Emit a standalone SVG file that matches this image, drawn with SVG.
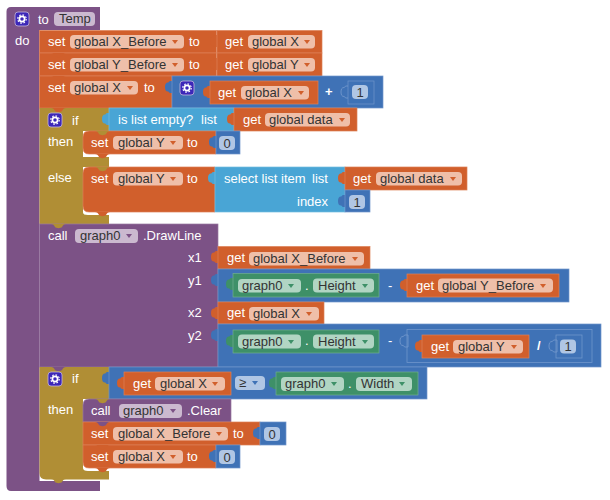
<svg xmlns="http://www.w3.org/2000/svg" width="610" height="500" viewBox="0 0 610 500">
<style>
text{font-family:"Liberation Sans",Arial,sans-serif;font-size:13px}
.t{fill:#fff}
.d{fill:#333}
.o{fill:#d15f2c;stroke:#dd8058;stroke-width:.7}
.p{fill:#7c5286;stroke:#9a7aa2;stroke-width:.7}
.b{fill:#3f72b6;stroke:#6f96cb;stroke-width:.7}
.g{fill:#3e9068;stroke:#6fae90;stroke-width:.7}
.l{fill:#49a5d5;stroke:#74bde0;stroke-width:.7}
.m{fill:#b08e35}
.fo{fill:#efbfa9}
.fp{fill:#cbb9cf}
.fb{fill:#b0c6e4}
.fg{fill:#b1d5c3}
.ao{fill:#d15f2c}
.ap{fill:#7c5286}
.ab{fill:#3f72b6}
.ag{fill:#3e9068}
.to{fill:#d15f2c}.tb{fill:#3f72b6}.tg{fill:#3e9068}.tl{fill:#49a5d5}.tp{fill:#7c5286}.tm{fill:#b08e35}
.hollow{fill:#3f72b6;stroke:#7fa2d2;stroke-width:.7}
.frame{fill:none;stroke:#6f96cb;stroke-width:.8}
</style>
<defs>
<path id="tab" d="M1 4H-2C-3 4-3 5.500-4 5.500C-6 5.500-7 7-7 10C-7 13-6 14.500-4 14.500C-3 14.500-3 16-2 16H1Z"/>
<path id="bump" d="M0 0C2 0 3 1 4 3C5 4.500 10 4.500 11 3C12 1 13 0 15 0Z"/>
<path id="arrow" d="M0 0H6L3 4Z"/>
<g id="gear">
<rect x="0" y="0" width="14" height="14" rx="3" fill="#3c27b8" stroke="#c4b6dc" stroke-width=".8"/>
<circle cx="7" cy="7" r="2.600" fill="none" stroke="#fff" stroke-width="1.700"/>
<circle cx="7" cy="7" r="4.200" fill="none" stroke="#fff" stroke-width="1.200" stroke-dasharray="1.600 1.700"/>
</g>
</defs>

<g id="connectors" fill="none"></g>

<g id="proc-temp">
<path fill="#7c5286" d="M11 7H100V30H39.500V481H100V491H11Q6.500 491 6.500 486V11.500Q6.500 7 11 7Z"/>
<use href="#gear" x="15" y="12"/>
<text class="t" x="38" y="24">to</text>
<rect class="fp" x="54" y="12" width="41" height="14" rx="4"/><text class="d" x="59" y="23">Temp</text>
<text class="t" x="15" y="45">do</text>
</g>

<g id="set-x-before">
<rect class="o" x="39.500" y="30.500" width="177" height="22.500"/>
<text class="t" x="48" y="46">set</text>
<rect class="fo" x="70" y="35" width="114" height="13.500" rx="4"/><text class="d" x="74" y="46">global X_Before</text><use class="ao" href="#arrow" x="172" y="40"/>
<text class="t" x="189" y="46">to</text>
</g>
<g id="get-x-1">
<use class="to" href="#tab" x="217" y="31"/>
<rect class="o" x="217" y="30.500" width="105" height="22.500"/>
<text class="t" x="225" y="46">get</text>
<rect class="fo" x="248" y="35" width="67" height="13.500" rx="4"/><text class="d" x="252" y="46">global X</text><use class="ao" href="#arrow" x="304" y="40"/>
</g>
<g id="set-y-before">
<rect class="o" x="39.500" y="53" width="177" height="23"/>
<use class="to" href="#bump" x="51" y="53"/>
<text class="t" x="48" y="69">set</text>
<rect class="fo" x="70" y="58" width="114" height="13.500" rx="4"/><text class="d" x="74" y="69">global Y_Before</text><use class="ao" href="#arrow" x="172" y="63"/>
<text class="t" x="189" y="69">to</text>
</g>
<g id="get-y-1">
<use class="to" href="#tab" x="217" y="54"/>
<rect class="o" x="217" y="53" width="105" height="23"/>
<text class="t" x="225" y="69">get</text>
<rect class="fo" x="248" y="58" width="67" height="13.500" rx="4"/><text class="d" x="252" y="69">global Y</text><use class="ao" href="#arrow" x="304" y="63"/>
</g>
<g id="set-x">
<rect class="o" x="39.500" y="76" width="132.500" height="32"/>
<use class="to" href="#bump" x="51" y="76"/>
<text class="t" x="48" y="92">set</text>
<rect class="fo" x="70" y="81" width="68" height="13.500" rx="4"/><text class="d" x="74" y="92">global X</text><use class="ao" href="#arrow" x="127" y="86"/>
<text class="t" x="144" y="92">to</text>
</g>
<g id="math-add">
<use class="tb" href="#tab" x="172" y="77"/>
<rect class="b" x="172" y="76" width="211" height="32"/>
<use href="#gear" x="180" y="81"/>
<use class="to" href="#tab" x="210" y="82"/>
<rect class="o" x="210" y="81" width="108" height="23"/>
<text class="t" x="218" y="97">get</text>
<rect class="fo" x="241" y="86" width="68" height="13.500" rx="4"/><text class="d" x="245" y="97">global X</text><use class="ao" href="#arrow" x="298" y="91"/>
<text class="t" x="325" y="96" font-weight="bold">+</text>
<use class="hollow" href="#tab" x="348" y="82"/>
<rect class="b" x="348" y="81" width="26" height="23"/>
<rect class="fb" x="352" y="85" width="16" height="14" rx="4"/><text class="d" x="356.500" y="96.500">1</text>
</g>

<g id="if-1">
<path class="tm" d="M39.500 108H109V131H83V157H109V167H83V212.500Q83 215 88 215H109V224H39.500Z"/>
<use class="to" href="#bump" x="51" y="108"/>
<use href="#gear" x="48" y="113"/>
<text class="t" x="72" y="125">if</text>
<text class="t" x="48" y="146">then</text>
<text class="t" x="48" y="182">else</text>
</g>
<g id="is-list-empty">
<use class="tl" href="#tab" x="109" y="109"/>
<rect class="l" x="109" y="108" width="125" height="23"/>
<text class="t" x="118" y="124">is list empty?</text><text class="t" x="201" y="124">list</text>
</g>
<g id="get-data-1">
<use class="to" href="#tab" x="234" y="109"/>
<rect class="o" x="234" y="108" width="123" height="23"/>
<text class="t" x="243" y="124">get</text>
<rect class="fo" x="265" y="113" width="85" height="13.500" rx="4"/><text class="d" x="269" y="124">global data</text><use class="ao" href="#arrow" x="339" y="118"/>
</g>
<g id="set-y-then">
<path class="o" d="M89 131H216V154H89Q83 154 83 148V137Q83 131 89 131Z"/>
<use class="tm" href="#bump" x="95" y="131"/>
<use class="to" href="#bump" x="95" y="154"/>
<text class="t" x="91" y="147">set</text>
<rect class="fo" x="113" y="136" width="70" height="13.500" rx="4"/><text class="d" x="118" y="147">global Y</text><use class="ao" href="#arrow" x="170" y="141"/>
<text class="t" x="187" y="147">to</text>
</g>
<g id="num-0-a">
<use class="tb" href="#tab" x="216" y="132"/>
<rect class="b" x="216" y="131" width="24" height="23"/>
<rect class="fb" x="219" y="136" width="16" height="14" rx="4"/><text class="d" x="223.500" y="147.500">0</text>
</g>
<g id="set-y-else">
<path class="o" d="M89 167H215V212H89Q83 212 83 206V173Q83 167 89 167Z"/>
<use class="tm" href="#bump" x="95" y="167"/>
<use class="to" href="#bump" x="95" y="212"/>
<text class="t" x="91" y="183">set</text>
<rect class="fo" x="113" y="172" width="70" height="13.500" rx="4"/><text class="d" x="118" y="183">global Y</text><use class="ao" href="#arrow" x="170" y="177"/>
<text class="t" x="187" y="183">to</text>
</g>
<g id="select-list-item">
<use class="tl" href="#tab" x="215" y="168"/>
<rect class="l" x="215" y="167" width="130" height="45"/>
<text class="t" x="224" y="183">select list item</text><text class="t" x="312" y="183">list</text>
<text class="t" x="297" y="206">index</text>
</g>
<g id="get-data-2">
<use class="to" href="#tab" x="345" y="168"/>
<rect class="o" x="345" y="167" width="122" height="23"/>
<text class="t" x="353" y="183">get</text>
<rect class="fo" x="376" y="172" width="86" height="13.500" rx="4"/><text class="d" x="380" y="183">global data</text><use class="ao" href="#arrow" x="450" y="177"/>
</g>
<g id="num-1-a">
<use class="tb" href="#tab" x="345" y="191"/>
<rect class="b" x="345" y="190" width="25" height="22"/>
<rect class="fb" x="349" y="195" width="16" height="14" rx="4"/><text class="d" x="353.500" y="206.500">1</text>
</g>

<g id="call-drawline">
<rect class="p" x="39.500" y="224" width="178.500" height="143"/>
<use class="tm" href="#bump" x="51" y="224"/>
<text class="t" x="48" y="240">call</text>
<rect class="fp" x="75" y="229" width="63" height="14" rx="4"/><text class="d" x="80" y="240">graph0</text><use class="ap" href="#arrow" x="126" y="234"/>
<text class="t" x="143" y="240">.DrawLine</text>
<text class="t" x="188" y="262">x1</text>
<text class="t" x="188" y="285">y1</text>
<text class="t" x="188" y="317">x2</text>
<text class="t" x="188" y="340">y2</text>
</g>
<g id="get-x-before">
<use class="to" href="#tab" x="218" y="247"/>
<rect class="o" x="218" y="246.500" width="152" height="22.500"/>
<text class="t" x="227" y="262">get</text>
<rect class="fo" x="249" y="252" width="115" height="13.500" rx="4"/><text class="d" x="253" y="262.500">global X_Before</text><use class="ao" href="#arrow" x="352" y="257"/>
</g>
<g id="math-y1">
<use class="tb" href="#tab" x="218" y="270"/>
<rect class="b" x="218" y="269" width="351" height="33"/>
<use class="tg" href="#tab" x="233" y="274"/>
<rect class="g" x="233" y="273.500" width="146" height="23.500"/>
<rect class="fg" x="238" y="279" width="63" height="13.500" rx="4"/><text class="d" x="242" y="290">graph0</text><use class="ag" href="#arrow" x="288" y="284"/>
<text class="t" x="305" y="290">.</text>
<rect class="fg" x="313" y="278.500" width="61" height="14" rx="4"/><text class="d" x="318" y="290">Height</text><use class="ag" href="#arrow" x="362" y="284"/>
<text class="t" x="388" y="290">-</text>
<use class="to" href="#tab" x="407" y="275"/>
<rect class="o" x="407" y="274" width="152" height="23"/>
<text class="t" x="416" y="290">get</text>
<rect class="fo" x="438" y="278.500" width="115" height="14" rx="4"/><text class="d" x="442" y="290">global Y_Before</text><use class="ao" href="#arrow" x="540" y="284"/>
</g>
<g id="get-x-2">
<use class="to" href="#tab" x="218" y="303"/>
<rect class="o" x="218" y="302" width="106" height="22"/>
<text class="t" x="227" y="317">get</text>
<rect class="fo" x="249" y="307" width="70" height="13.500" rx="4"/><text class="d" x="253" y="317.500">global X</text><use class="ao" href="#arrow" x="306" y="312"/>
</g>
<g id="math-y2">
<use class="tb" href="#tab" x="218" y="325"/>
<rect class="b" x="218" y="324" width="383" height="43"/>
<use class="tg" href="#tab" x="233" y="331"/>
<rect class="g" x="233" y="330" width="146" height="23"/>
<rect class="fg" x="238" y="334.500" width="63" height="14" rx="4"/><text class="d" x="242" y="345.500">graph0</text><use class="ag" href="#arrow" x="288" y="340"/>
<text class="t" x="305" y="345">.</text>
<rect class="fg" x="313" y="334.500" width="61" height="14" rx="4"/><text class="d" x="318" y="345.500">Height</text><use class="ag" href="#arrow" x="362" y="340"/>
<text class="t" x="388" y="345">-</text>
<use class="hollow" href="#tab" x="407" y="331"/>
<rect class="frame" x="407" y="329.500" width="185" height="33"/>
<use class="to" href="#tab" x="422" y="336"/>
<rect class="o" x="422" y="335" width="107" height="23"/>
<text class="t" x="431" y="351">get</text>
<rect class="fo" x="453" y="340" width="70" height="13.500" rx="4"/><text class="d" x="458" y="351">global Y</text><use class="ao" href="#arrow" x="511" y="345"/>
<text class="t" x="537" y="350" font-weight="bold">/</text>
<use class="hollow" href="#tab" x="556" y="336"/>
<rect class="frame" x="556" y="335" width="26" height="23"/>
<rect class="fb" x="560" y="339.500" width="16" height="14" rx="4"/><text class="d" x="564.500" y="351">1</text>
</g>

<g id="if-2">
<path class="tm" d="M39.500 367H109V399H83V468Q83 471 88 471H109V479.500H46Q39.500 479.500 39.500 473Z"/>
<use class="tp" href="#bump" x="51" y="367"/>
<use href="#gear" x="48" y="372"/>
<text class="t" x="72" y="383">if</text>
<text class="t" x="48" y="414">then</text>
<use class="tm" href="#bump" x="51" y="479"/>
</g>
<g id="math-compare">
<use class="tb" href="#tab" x="109" y="368"/>
<rect class="b" x="109" y="367" width="318" height="32"/>
<use class="to" href="#tab" x="124" y="373"/>
<rect class="o" x="124" y="372" width="107" height="23"/>
<text class="t" x="133" y="388">get</text>
<rect class="fo" x="155" y="377" width="70" height="13.500" rx="4"/><text class="d" x="160" y="388">global X</text><use class="ao" href="#arrow" x="212" y="382"/>
<rect class="fb" x="235" y="376" width="30" height="14" rx="4"/><text class="d" x="239" y="387">≥</text><use class="ab" href="#arrow" x="252" y="381"/>
<use class="tg" href="#tab" x="276" y="373"/>
<rect class="g" x="276" y="372" width="142" height="23"/>
<rect class="fg" x="281" y="377" width="63" height="14" rx="4"/><text class="d" x="285" y="388">graph0</text><use class="ag" href="#arrow" x="331" y="382"/>
<text class="t" x="348" y="388">.</text>
<rect class="fg" x="356" y="377" width="56" height="14" rx="4"/><text class="d" x="361" y="388">Width</text><use class="ag" href="#arrow" x="399" y="382"/>
</g>
<g id="call-clear">
<path class="p" d="M89 399H231V422H83V405Q83 399 89 399Z"/>
<use class="tm" href="#bump" x="95" y="399"/>
<text class="t" x="91" y="415">call</text>
<rect class="fp" x="119" y="404" width="63" height="14" rx="4"/><text class="d" x="123" y="415">graph0</text><use class="ap" href="#arrow" x="170" y="409"/>
<text class="t" x="187" y="415">.Clear</text>
</g>
<g id="set-x-before-0">
<rect class="o" x="83" y="422" width="177" height="23"/>
<use class="tp" href="#bump" x="95" y="422"/>
<text class="t" x="91" y="438">set</text>
<rect class="fo" x="113" y="427" width="115" height="13.500" rx="4"/><text class="d" x="118" y="438">global X_Before</text><use class="ao" href="#arrow" x="216" y="432"/>
<text class="t" x="233" y="438">to</text>
</g>
<g id="num-0-b">
<use class="tb" href="#tab" x="260" y="423"/>
<rect class="b" x="260" y="422" width="26" height="23"/>
<rect class="fb" x="264" y="427" width="16" height="14" rx="4"/><text class="d" x="268.500" y="438.500">0</text>
</g>
<g id="set-x-0">
<path class="o" d="M83 445H216V468H89Q83 468 83 462Z"/>
<use class="to" href="#bump" x="95" y="445"/>
<use class="to" href="#bump" x="95" y="468"/>
<text class="t" x="91" y="461">set</text>
<rect class="fo" x="113" y="450" width="70" height="13.500" rx="4"/><text class="d" x="118" y="461">global X</text><use class="ao" href="#arrow" x="170" y="455"/>
<text class="t" x="187" y="461">to</text>
</g>
<g id="num-0-c">
<use class="tb" href="#tab" x="216" y="446"/>
<rect class="b" x="216" y="445" width="24" height="23"/>
<rect class="fb" x="219" y="450" width="16" height="14" rx="4"/><text class="d" x="223.500" y="461.500">0</text>
</g>
</svg>
